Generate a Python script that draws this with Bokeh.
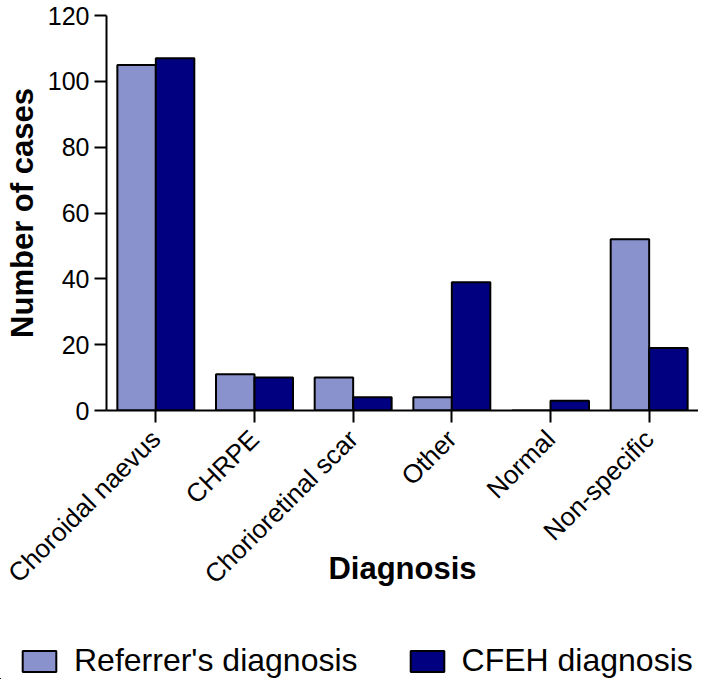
from bokeh.plotting import figure
from bokeh.models import FactorRange, ColumnDataSource, Legend, LegendItem, FixedTicker
from bokeh.layouts import column
from bokeh.transform import dodge
from bokeh.embed import file_html
from bokeh.resources import INLINE
import math

categories = ["Choroidal naevus", "CHRPE", "Chorioretinal scar", "Other", "Normal", "Non-specific"]
referrer = [105, 11, 10, 4, 0, 52]
cfeh = [107, 10, 4, 39, 3, 19]
y_ticks = [0, 20, 40, 60, 80, 100, 120]
series_names = ["Referrer's diagnosis", "CFEH diagnosis"]
series_colors = ["#8A92CE", "#010080"]

src = ColumnDataSource(dict(cat=categories, ref=referrer, cfeh=cfeh))
font = "Liberation Sans"

p = figure(x_range=FactorRange(*categories, range_padding=0), y_range=(0, 120),
           width=698, height=600, output_backend="svg", toolbar_location=None,
           min_border_left=106, min_border_right=0, min_border_top=15, min_border_bottom=190)
p.x_range.range_padding = 0
p.frame_align = False

r1 = p.vbar(x=dodge("cat", -0.195, range=p.x_range), top="ref", width=0.39, source=src,
            fill_color=series_colors[0], line_color="black", line_width=2)
r2 = p.vbar(x=dodge("cat", 0.195, range=p.x_range), top="cfeh", width=0.39, source=src,
            fill_color=series_colors[1], line_color="black", line_width=2)

p.grid.visible = False
p.outline_line_color = None

for ax in (p.xaxis[0], p.yaxis[0]):
    ax.axis_line_width = 2
    ax.axis_line_color = "black"
    ax.major_tick_line_width = 2
    ax.major_tick_out = 12
    ax.major_tick_in = 0
    ax.minor_tick_out = 0
    ax.minor_tick_in = 0
    ax.major_label_text_font = font
    ax.major_label_text_color = "black"
    ax.axis_label_text_font = font
    ax.axis_label_text_font_style = "bold"
    ax.axis_label_text_color = "black"

p.yaxis.ticker = FixedTicker(ticks=y_ticks)
p.yaxis.major_label_text_font_size = "25px"
p.yaxis.major_label_standoff = 5
p.yaxis.axis_label = "Number of cases"
p.yaxis.axis_label_text_font_size = "31px"
p.yaxis.axis_label_standoff = 5

p.xaxis.major_label_orientation = math.pi / 4
p.xaxis.major_label_text_font_size = "26px"
p.xaxis.major_label_standoff = 12
p.xaxis.axis_label = "Diagnosis"
p.xaxis.axis_label_text_font_size = "31px"
p.xaxis.axis_label_standoff = -52

# legend strip below the chart
lsrc = ColumnDataSource(dict(v=referrer))
p2 = figure(width=698, height=79, output_backend="svg", toolbar_location=None,
            x_range=(1000, 1001), y_range=(1000, 1001), min_border=0,
            x_axis_location=None, y_axis_location=None)
p2.frame_align = False
p2.grid.visible = False
p2.outline_line_color = None
lr1 = p2.vbar(x="v", top="v", width=0.1, source=lsrc, fill_color=series_colors[0],
              line_color="black", line_width=2)
lr2 = p2.vbar(x="v", top="v", width=0.1, source=lsrc, fill_color=series_colors[1],
              line_color="black", line_width=2)
legend = Legend(items=[LegendItem(label=series_names[0], renderers=[lr1]),
                       LegendItem(label=series_names[1], renderers=[lr2])],
                orientation="horizontal", location=(18, 0),
                label_text_font=font, label_text_font_size="32px", label_text_color="black",
                glyph_width=42, glyph_height=26, label_standoff=14, spacing=48,
                padding=2, margin=0, border_line_color=None, background_fill_alpha=0,
                label_height=26)
p2.add_layout(legend, "center")

layout = column(p, p2, spacing=0)
open("out.html", "w").write(file_html(layout, INLINE))
